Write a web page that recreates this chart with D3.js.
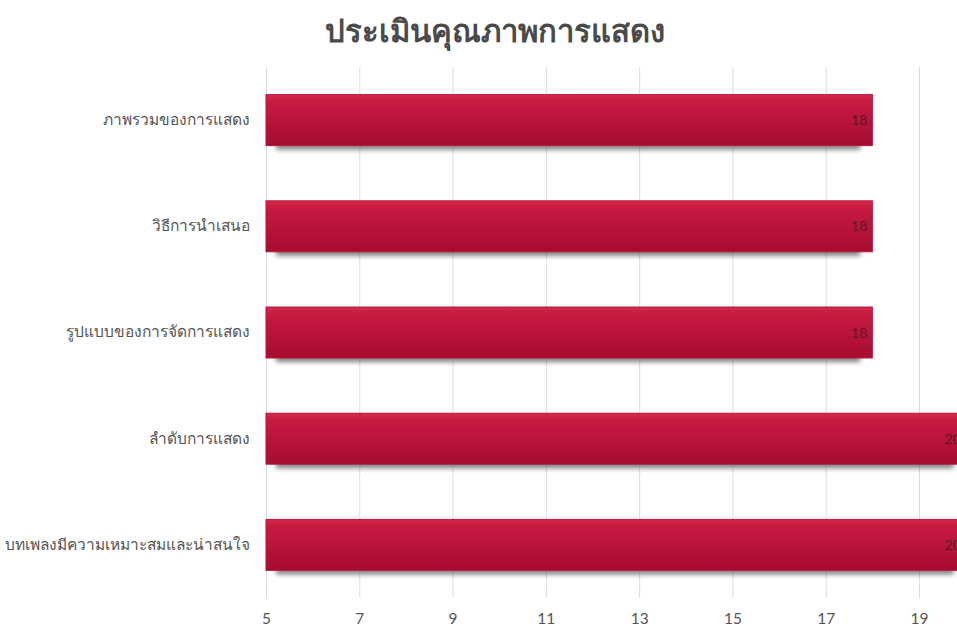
<!DOCTYPE html>
<html>
<head>
<meta charset="utf-8">
<script src="https://cdn.jsdelivr.net/npm/d3@7"></script>
<style>
  body { margin: 0; background: #fff; overflow: hidden; }
  svg { display: block; }
</style>
</head>
<body>
<div id="chart"></div>
<script>
// données
const categories = [
    "ภาพรวมของการแสดง",
    "วิธีการนำเสนอ",
    "รูปแบบของการจัดการแสดง",
    "ลำดับการแสดง",
    "บทเพลงมีความเหมาะสมและน่าสนใจ"
]
const scores = [18, 18, 18, 20, 20]
const tickValues = [5, 7, 9, 11, 13, 15, 17, 19]
const titre = "ประเมินคุณภาพการแสดง"

const tableau = categories.map((c, i) => ({ "critere": c, "score": scores[i] }))

// marges
let margin = { top: 67, right: 0, bottom: 27, left: 266 };
let totalW = 957, totalH = 627;
let width = totalW - margin.left - margin.right,
    height = totalH - margin.top - margin.bottom;

let svgRoot = d3.select("#chart")
    .append("svg")
    .attr("width", totalW)
    .attr("height", totalH)

let defs = svgRoot.append("defs")
let grad = defs.append("linearGradient")
    .attr("id", "barGrad")
    .attr("x1", 0).attr("y1", 0).attr("x2", 0).attr("y2", 1)
grad.append("stop").attr("offset", "0%").attr("stop-color", "#d42a4d")
grad.append("stop").attr("offset", "12%").attr("stop-color", "#c91a42")
grad.append("stop").attr("offset", "100%").attr("stop-color", "#a60c30")

let blur = defs.append("filter").attr("id", "shadowBlur")
    .attr("x", "-10%").attr("y", "-50%").attr("width", "120%").attr("height", "200%")
blur.append("feGaussianBlur").attr("stdDeviation", 2.5)

let svg = svgRoot.append("g")
    .attr("transform", "translate(" + margin.left + "," + margin.top + ")")

// titre
svgRoot.append("text")
    .text(titre)
    .attr("x", 495)
    .attr("y", 42)
    .attr("text-anchor", "middle")
    .style("font-size", "31px")
    .style("font-weight", "bold")
    .style("fill", "#4a4a4a")
    .style("font-family", "Tahoma, 'Noto Sans', 'DejaVu Sans', sans-serif")

// échelles
let x = d3.scaleLinear()
    .domain([5, 19])
    .range([0, 653])

let y = d3.scaleBand()
    .domain(categories)
    .range([0, 531])
    .paddingInner(0.52)
    .paddingOuter(0.26)

// grille verticale
svg.append("g")
    .selectAll("line")
    .data(tickValues.concat([21]))
    .enter()
    .append("line")
    .attr("x1", d => x(d) + 0.5)
    .attr("x2", d => x(d) + 0.5)
    .attr("y1", 0)
    .attr("y2", height - 2)
    .attr("stroke", "#dcdcdc")
    .attr("stroke-width", 1)

// axe x
let axeX = svg.append("g")
    .attr("transform", "translate(0," + (height - 2) + ")")
    .call(d3.axisBottom(x).tickValues(tickValues).tickSize(0).tickPadding(15))
axeX.select(".domain").remove()
axeX.selectAll("text")
    .style("font-size", "15.5px")
    .style("fill", "#555")
    .style("font-family", "'Gill Sans', Lato, 'Open Sans', sans-serif")

// axe y (libellés)
let axeY = svg.append("g")
    .call(d3.axisLeft(y).tickSize(0).tickPadding(16))
axeY.select(".domain").remove()
axeY.selectAll("text")
    .style("font-size", "15.5px")
    .style("fill", "#555")
    .style("font-family", "Tahoma, 'Noto Sans', 'DejaVu Sans', sans-serif")

// ombres
svg.append("g")
    .selectAll("rect")
    .data(tableau)
    .enter()
    .append("rect")
    .attr("x", 10)
    .attr("y", d => y(d.critere) + y.bandwidth() - 4)
    .attr("width", d => x(d.score) - 22)
    .attr("height", 8)
    .attr("fill", "#555")
    .attr("opacity", 0.75)
    .attr("filter", "url(#shadowBlur)")

// barres
svg.append("g")
    .selectAll("rect")
    .data(tableau)
    .enter()
    .append("rect")
    .attr("x", 0)
    .attr("y", d => y(d.critere))
    .attr("width", d => x(d.score))
    .attr("height", y.bandwidth())
    .attr("fill", "url(#barGrad)")
    .attr("stroke", "#b8183f")
    .attr("stroke-width", 1)

// valeurs
svg.append("g")
    .selectAll("text")
    .data(tableau)
    .enter()
    .append("text")
    .text(d => d.score)
    .attr("x", d => x(d.score) - 5)
    .attr("y", d => y(d.critere) + y.bandwidth() / 2 + 5)
    .attr("text-anchor", "end")
    .style("font-size", "14px")
    .style("fill", "#5a1a28")
    .style("font-family", "'Gill Sans', Lato, 'Open Sans', sans-serif")
</script>
</body>
</html>
